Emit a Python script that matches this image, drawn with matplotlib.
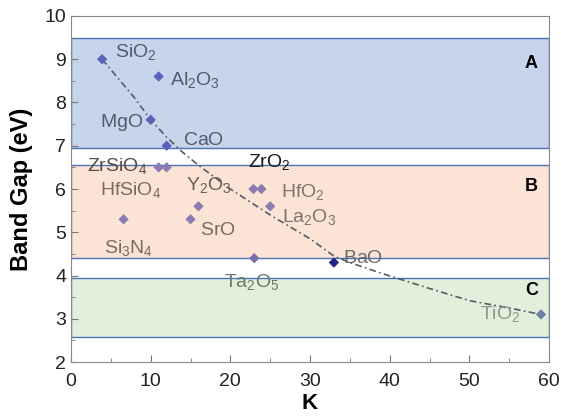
import numpy as np
import matplotlib.pyplot as plt
from matplotlib.patches import Rectangle

plt.rcParams['font.family'] = ['Liberation Sans', 'DejaVu Sans']

# materials: dielectric constant K and band gap (eV)
names = ['SiO2', 'Al2O3', 'MgO', 'CaO', 'ZrSiO4', 'HfSiO4', 'Si3N4', 'SrO', 'Y2O3',
         'ZrO2', 'HfO2', 'La2O3', 'Ta2O5', 'BaO', 'TiO2']
K = [3.9, 11.0, 10.0, 12.0, 12.0, 11.0, 6.6, 15.0, 16.0, 22.9, 23.9, 25.0, 23.0, 33.0, 59.0]
gap = [9.0, 8.6, 7.6, 7.0, 6.5, 6.5, 5.3, 5.3, 5.6, 6.0, 6.0, 5.6, 4.4, 4.3, 3.1]
pt_colors = ['#5b62b8', '#5b62b8', '#5b62b8', '#5b62b8', '#8a7cb0', '#8a7cb0', '#8a7cb0',
             '#8a7cb0', '#8a7cb0', '#8a7cb0', '#8a7cb0', '#8a7cb0', '#7a70a8', '#26268a', '#6f7fa8']

# label text, anchor (left, baseline), colour
labels = ['SiO_2', 'Al_2O_3', 'MgO', 'CaO', 'ZrSiO_4', 'HfSiO_4', 'Si_3N_4', 'SrO', 'Y_2O_3',
          'ZrO_2', 'HfO_2', 'La_2O_3', 'Ta_2O_5', 'BaO', 'TiO_2']
lab_x = [5.5, 12.4, 3.6, 14.1, 2.0, 3.6, 4.1, 16.2, 14.4, 22.2, 26.4, 26.5, 19.2, 34.1, 51.3]
lab_y = [9.06, 8.4, 7.44, 7.02, 6.42, 5.86, 4.51, 4.94, 5.98, 6.52, 5.82, 5.24, 3.74, 4.3, 2.99]
lab_colors = ['#555a6a', '#555a6a', '#555a6a', '#555a6a', '#5a4a44', '#7a6a64', '#7a6a62',
              '#7a6a62', '#6a605a', '#1a1a1a', '#7d7470', '#7d7470', '#6a786a', '#6a6a6a', '#8a9a8a']

# trend curve
trend_K = [3.9, 8, 10, 12, 14, 16, 20, 25, 30, 33, 35, 39, 45, 50, 55, 59]
trend_gap = [9.0, 8.1, 7.6, 7.2, 6.85, 6.55, 6.0, 5.4, 4.85, 4.45, 4.3, 4.05, 3.7, 3.42, 3.25, 3.1]

# regions A, B, C: (bottom, top, fill)
regions = ['A', 'B', 'C']
reg_lo = [6.94, 4.4, 2.58]
reg_hi = [9.48, 6.55, 3.94]
reg_fill = ['#c6d4ec', '#fbe4d6', '#e2efda']
reg_lab_y = [8.9, 6.05, 3.66]

fig = plt.figure(figsize=(5.61, 4.2), dpi=100)
ax = fig.add_axes([0.1266, 0.138, 0.852, 0.824])

for r, lo, hi, fc, ly in zip(regions, reg_lo, reg_hi, reg_fill, reg_lab_y):
    ax.add_patch(Rectangle((0, lo), 60, hi - lo, facecolor=fc, edgecolor='#4a72b8', lw=1.0, zorder=1))
    ax.text(57.8, ly, r, fontsize=13, fontweight='bold', ha='center', va='center', color='black', zorder=4)

ax.plot(trend_K, trend_gap, color='#555a66', lw=1.2, ls=(0, (4, 2, 1, 2)), zorder=2)
ax.scatter(K, gap, marker='D', s=28, c=pt_colors, edgecolors='none', zorder=3)

for t, x, y, c in zip(labels, lab_x, lab_y, lab_colors):
    ax.text(x, y, r'$\mathregular{' + t + '}$', fontsize=14, color=c, ha='left', va='baseline', zorder=4)

ax.set_xlim(0, 60)
ax.set_ylim(2, 10)
ax.set_xticks(np.arange(0, 61, 10))
ax.set_xticks(np.arange(0, 61, 5), minor=True)
ax.set_yticks(np.arange(2, 11, 1))
ax.set_yticks(np.arange(2, 10.1, 0.5), minor=True)
ax.tick_params(which='both', direction='in', color='#777777', labelsize=14, labelcolor='#222222')
ax.tick_params(which='major', length=5)
ax.tick_params(which='minor', length=3)
ax.tick_params(axis='x', pad=8)
for s in ax.spines.values():
    s.set_color('#888888')

ax.set_xlabel('K', fontsize=16, fontweight='bold', labelpad=2)
ax.set_ylabel('Band Gap (eV)', fontsize=17, fontweight='bold', labelpad=8)

fig.savefig('out.png', dpi=100)
